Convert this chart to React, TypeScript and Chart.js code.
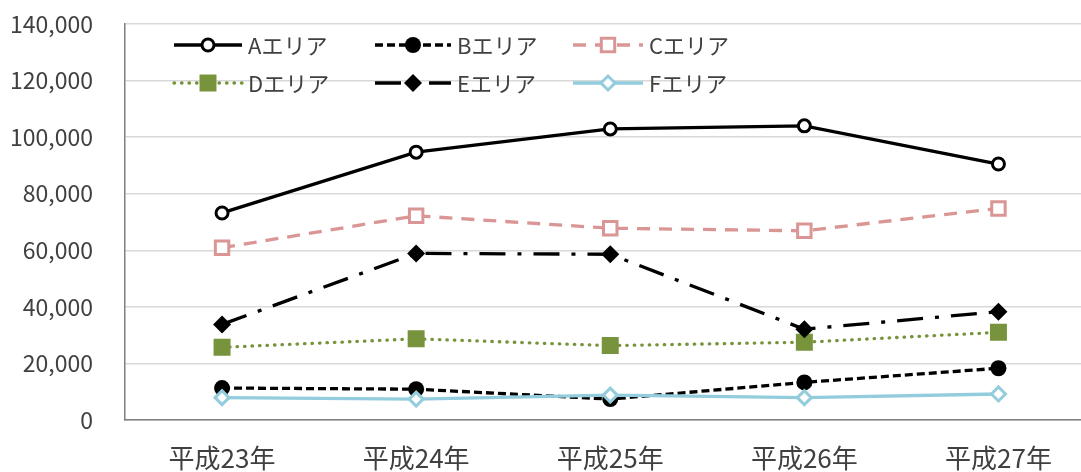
import React, { useEffect, useRef } from 'react';
import { Chart, registerables } from 'chart.js';

Chart.register(...registerables);

const categories = ['平成23年', '平成24年', '平成25年', '平成26年', '平成27年'];
const seriesNames = ['Aエリア', 'Bエリア', 'Cエリア', 'Dエリア', 'Eエリア', 'Fエリア'];
const areaA = [73200, 94700, 102900, 104000, 90500];
const areaB = [11300, 10900, 7400, 13300, 18300];
const areaC = [60900, 72200, 67800, 66900, 74800];
const areaD = [25700, 28700, 26300, 27500, 31000];
const areaE = [33800, 58900, 58600, 32100, 38300];
const areaF = [7900, 7400, 8800, 7900, 9200];
const yMin = 0;
const yMax = 140000;
const yStep = 20000;

const FONT = '"Noto Sans CJK JP", "Noto Sans", sans-serif';
const TEXT = '#404040';

function drawMarker(ctx: CanvasRenderingContext2D, style: string, x: number, y: number, r: number, fill: string, stroke: string, bw: number) {
  ctx.beginPath();
  if (style === 'circle') {
    ctx.arc(x, y, r, 0, Math.PI * 2);
  } else if (style === 'rect') {
    const s = Math.SQRT1_2 * r;
    ctx.rect(x - s, y - s, 2 * s, 2 * s);
  } else if (style === 'rectRot') {
    ctx.moveTo(x, y - r);
    ctx.lineTo(x + r, y);
    ctx.lineTo(x, y + r);
    ctx.lineTo(x - r, y);
    ctx.closePath();
  }
  ctx.fillStyle = fill;
  ctx.fill();
  if (bw > 0) {
    ctx.lineWidth = bw;
    ctx.strokeStyle = stroke;
    ctx.setLineDash([]);
    ctx.stroke();
  }
}

const legendPlugin = {
  id: 'lineLegend',
  afterDraw(chart: any) {
    const ctx: CanvasRenderingContext2D = chart.ctx;
    const cols = [[174, 242], [375, 451], [573, 643]];
    const rows = [45, 83];
    chart.data.datasets.forEach((ds: any, i: number) => {
      const [x0, x1] = cols[i % 3];
      const y = rows[Math.floor(i / 3)];
      ctx.save();
      ctx.strokeStyle = ds.borderColor;
      ctx.lineWidth = ds.borderWidth;
      ctx.setLineDash(ds.borderDash || []);
      ctx.lineCap = ds.borderCapStyle || 'butt';
      ctx.beginPath();
      ctx.moveTo(x0, y);
      ctx.lineTo(x1, y);
      ctx.stroke();
      ctx.setLineDash([]);
      ctx.lineCap = 'butt';
      drawMarker(ctx, ds.pointStyle, (x0 + x1) / 2, y, ds.pointRadius, ds.pointBackgroundColor, ds.pointBorderColor, ds.pointBorderWidth);
      ctx.fillStyle = TEXT;
      ctx.font = '22px ' + FONT;
      ctx.textBaseline = 'middle';
      ctx.textAlign = 'left';
      ctx.fillText(ds.label, x1 + 6, y + 1);
      ctx.restore();
    });
  },
};

export default function App() {
  const ref = useRef<HTMLCanvasElement | null>(null);

  useEffect(() => {
    if (!ref.current) return;
    const common = { borderWidth: 3.3, fill: false, tension: 0 };
    const chart = new Chart(ref.current, {
      type: 'line',
      data: {
        labels: categories,
        datasets: [
          {
            ...common,
            label: seriesNames[0],
            data: areaA,
            borderColor: '#000000',
            borderDash: [],
            pointStyle: 'circle',
            pointRadius: 6,
            pointBackgroundColor: '#ffffff',
            pointBorderColor: '#000000',
            pointBorderWidth: 3,
            order: 6,
          },
          {
            ...common,
            label: seriesNames[1],
            data: areaB,
            borderColor: '#000000',
            borderDash: [8, 4],
            pointStyle: 'circle',
            pointRadius: 8,
            pointBackgroundColor: '#000000',
            pointBorderColor: '#000000',
            pointBorderWidth: 0,
            order: 5,
          },
          {
            ...common,
            label: seriesNames[2],
            data: areaC,
            borderColor: '#D99694',
            borderDash: [13, 9],
            pointStyle: 'rect',
            pointRadius: 9.5,
            pointBackgroundColor: '#ffffff',
            pointBorderColor: '#D99694',
            pointBorderWidth: 3,
            order: 4,
          },
          {
            ...common,
            label: seriesNames[3],
            data: areaD,
            borderColor: '#77933C',
            borderDash: [0.5, 7],
            borderCapStyle: 'round',
            pointStyle: 'rect',
            pointRadius: 12,
            pointBackgroundColor: '#77933C',
            pointBorderColor: '#77933C',
            pointBorderWidth: 0,
            order: 3,
          },
          {
            ...common,
            label: seriesNames[4],
            data: areaE,
            borderColor: '#000000',
            borderDash: [26, 12, 4, 12],
            pointStyle: 'rectRot',
            pointRadius: 9,
            pointBackgroundColor: '#000000',
            pointBorderColor: '#000000',
            pointBorderWidth: 0,
            order: 2,
          },
          {
            ...common,
            label: seriesNames[5],
            data: areaF,
            borderColor: '#93CDDD',
            borderDash: [],
            pointStyle: 'rectRot',
            pointRadius: 7,
            pointBackgroundColor: '#ffffff',
            pointBorderColor: '#93CDDD',
            pointBorderWidth: 3,
            order: 1,
          },
        ] as any,
      },
      options: {
        animation: false,
        responsive: false,
        maintainAspectRatio: false,
        events: [],
        layout: { padding: { top: 24, right: 6, left: 0, bottom: 0 } },
        plugins: {
          legend: { display: false },
          tooltip: { enabled: false },
          title: { display: false },
        },
        scales: {
          x: {
            type: 'category',
            offset: true,
            grid: { display: false, drawTicks: false },
            border: { display: true, color: '#7F7F7F', width: 1.5 },
            ticks: {
              color: TEXT,
              font: { family: FONT, size: 26 },
              padding: 23,
              maxRotation: 0,
              autoSkip: false,
            },
            afterFit: (s: any) => {
              s.height = 52;
              s.paddingLeft = 0;
              s.paddingRight = 0;
            },
          },
          y: {
            min: yMin,
            max: yMax,
            grid: { color: '#D9D9D9', lineWidth: 1.5, drawTicks: false },
            border: { display: true, color: '#7F7F7F', width: 1.5 },
            ticks: {
              stepSize: yStep,
              color: TEXT,
              font: { family: FONT, size: 23 },
              padding: 32,
              callback: (v: any) => Number(v).toLocaleString('en-US'),
            },
            afterFit: (s: any) => {
              s.width = 125;
              s.paddingTop = 0;
              s.paddingBottom = 0;
            },
          },
        },
      },
      plugins: [legendPlugin],
    });
    return () => chart.destroy();
  }, []);

  return (
    <div
      style={{
        position: 'fixed',
        left: 0,
        top: 0,
        width: 1081,
        height: 472,
        overflow: 'hidden',
        background: '#ffffff',
      }}
    >
      <canvas ref={ref} width={1108} height={472} style={{ width: 1108, height: 472, display: 'block' }} />
    </div>
  );
}
